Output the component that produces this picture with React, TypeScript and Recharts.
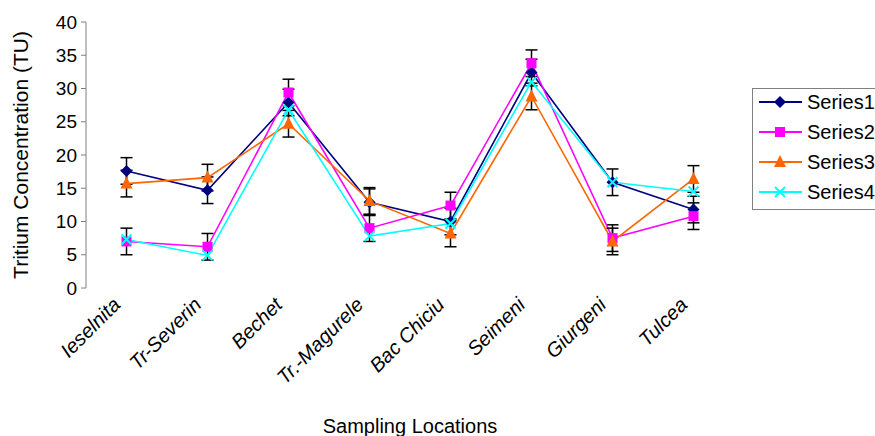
import React from 'react'
import {
  LineChart, Line, XAxis, YAxis, ErrorBar, Legend, Label
} from 'recharts'

// sampling locations along the river
const locations = ['Ieselnita', 'Tr-Severin', 'Bechet', 'Tr.-Magurele', 'Bac Chiciu', 'Seimeni', 'Giurgeni', 'Tulcea']

// tritium concentration (TU) per series
const series1 = [17.6, 14.7, 27.9, 12.9, 10.0, 32.4, 15.9, 11.8]
const series2 = [7.0, 6.2, 29.4, 9.0, 12.4, 33.8, 7.5, 10.8]
const series3 = [15.7, 16.6, 24.7, 13.1, 8.2, 28.8, 7.0, 16.4]
const series4 = [7.3, 4.9, 26.8, 7.8, 9.7, 31.0, 15.9, 14.5]

// fixed +/- error on series 1-3
const errorFixed = 2

const yTicks = [0, 5, 10, 15, 20, 25, 30, 35, 40]

const seriesNames = ['Series1', 'Series2', 'Series3', 'Series4']
const seriesColors = ['#000080', '#FF00FF', '#FF6600', '#00FFFF']

const data = locations.map((name, i) => ({
  name,
  x: i + 0.5,
  s1: series1[i],
  s2: series2[i],
  s3: series3[i],
  s4: series4[i],
  err: errorFixed,
}))

const edgeTicks = [...locations.map((_, i) => i), locations.length]
const centerTicks = locations.map((_, i) => i + 0.5)

const FONT = '"Liberation Sans", Arial, sans-serif'

function marker(kind: number, cx: number, cy: number, color: string, key?: string | number) {
  if (kind === 0) {
    return <polygon key={key} points={`${cx},${cy - 6} ${cx + 6},${cy} ${cx},${cy + 6} ${cx - 6},${cy}`} fill={color} />
  }
  if (kind === 1) {
    return <rect key={key} x={cx - 5} y={cy - 5} width={10} height={10} fill={color} />
  }
  if (kind === 2) {
    return <polygon key={key} points={`${cx},${cy - 7} ${cx + 6},${cy + 5} ${cx - 6},${cy + 5}`} fill={color} />
  }
  return (
    <g key={key}>
      <line x1={cx - 5} y1={cy - 5} x2={cx + 5} y2={cy + 5} stroke={color} strokeWidth={2} />
      <line x1={cx - 5} y1={cy + 5} x2={cx + 5} y2={cy - 5} stroke={color} strokeWidth={2} />
    </g>
  )
}

const makeDot = (kind: number) => (props: any) => {
  const { cx, cy, index } = props
  if (cx == null || cy == null) return <g key={index} />
  return marker(kind, cx, cy, seriesColors[kind], index)
}

const CategoryTick = (props: any) => {
  const { x, y, payload } = props
  const label = locations[Math.floor(payload.value)]
  const tx = x - 5
  const ty = y + 10
  return (
    <text
      x={tx}
      y={ty}
      transform={`rotate(-45, ${tx}, ${ty})`}
      textAnchor="end"
      fontStyle="italic"
      fontSize={20}
      fontFamily={FONT}
      fill="#000"
    >
      {label}
    </text>
  )
}

const renderLegend = () => (
  <svg width={130} height={122} style={{ display: 'block' }}>
    <rect x={0.5} y={0.5} width={128} height={121} fill="#fff" stroke="#808080" />
    {seriesNames.map((name, i) => {
      const cy = 14 + i * 30
      return (
        <g key={name}>
          <line x1={7} y1={cy} x2={50} y2={cy} stroke={seriesColors[i]} strokeWidth={2} />
          {marker(i, 28, cy, seriesColors[i])}
          <text x={55} y={cy} dominantBaseline="central" fontSize={20} fontFamily={FONT} fill="#000">
            {name}
          </text>
        </g>
      )
    })}
  </svg>
)

export default function App() {
  return (
    <div style={{ position: 'absolute', left: 0, top: 0, background: '#fff', fontFamily: FONT }}>
      <LineChart width={875} height={436} data={data} margin={{ top: 22, right: 141, left: 0, bottom: 0 }}>
        <XAxis
          xAxisId="edges"
          type="number"
          dataKey="x"
          domain={[0, locations.length]}
          allowDataOverflow
          ticks={edgeTicks}
          tick={false}
          height={0}
          tickSize={6}
          stroke="#808080"
        />
        <XAxis
          xAxisId="lab"
          type="number"
          dataKey="x"
          domain={[0, locations.length]}
          allowDataOverflow
          ticks={centerTicks}
          interval={0}
          axisLine={false}
          tickLine={false}
          tickSize={6}
          tickMargin={2}
          height={148}
          tick={<CategoryTick />}
        >
          <Label value="Sampling Locations" position="insideBottom" offset={3} fontSize={20} fontFamily={FONT} fill="#000" />
        </XAxis>
        <YAxis
          type="number"
          domain={[0, 40]}
          ticks={yTicks}
          interval={0}
          width={86}
          tickSize={5}
          tickMargin={4}
          stroke="#808080"
          tick={{ fill: '#000', fontSize: 19, fontFamily: FONT }}
        >
          <Label
            content={(p: any) => {
              const vb = p.viewBox
              const cx = vb.x + 20
              const cy = vb.y + vb.height / 2
              return (
                <text x={cx} y={cy} transform={`rotate(-90, ${cx}, ${cy})`} textAnchor="middle" dominantBaseline="central" fontSize={21} fontFamily={FONT} fill="#000">
                  Tritium Concentration (TU)
                </text>
              )
            }}
          />
        </YAxis>
        <Legend
          layout="horizontal"
          align="center"
          verticalAlign="middle"
          content={renderLegend}
          wrapperStyle={{ left: 752, top: 88, width: 130, height: 122 }}
        />
        <Line xAxisId="lab" type="linear" dataKey="s1" name="Series1" stroke={seriesColors[0]} strokeWidth={1.6} dot={makeDot(0)} activeDot={false} isAnimationActive={false}>
          <ErrorBar dataKey="err" direction="y" width={6} stroke="#000" strokeWidth={1.5} />
        </Line>
        <Line xAxisId="lab" type="linear" dataKey="s2" name="Series2" stroke={seriesColors[1]} strokeWidth={1.6} dot={makeDot(1)} activeDot={false} isAnimationActive={false}>
          <ErrorBar dataKey="err" direction="y" width={6} stroke="#000" strokeWidth={1.5} />
        </Line>
        <Line xAxisId="lab" type="linear" dataKey="s3" name="Series3" stroke={seriesColors[2]} strokeWidth={1.6} dot={makeDot(2)} activeDot={false} isAnimationActive={false}>
          <ErrorBar dataKey="err" direction="y" width={6} stroke="#000" strokeWidth={1.5} />
        </Line>
        <Line xAxisId="lab" type="linear" dataKey="s4" name="Series4" stroke={seriesColors[3]} strokeWidth={1.6} dot={makeDot(3)} activeDot={false} isAnimationActive={false} />
      </LineChart>
    </div>
  )
}
